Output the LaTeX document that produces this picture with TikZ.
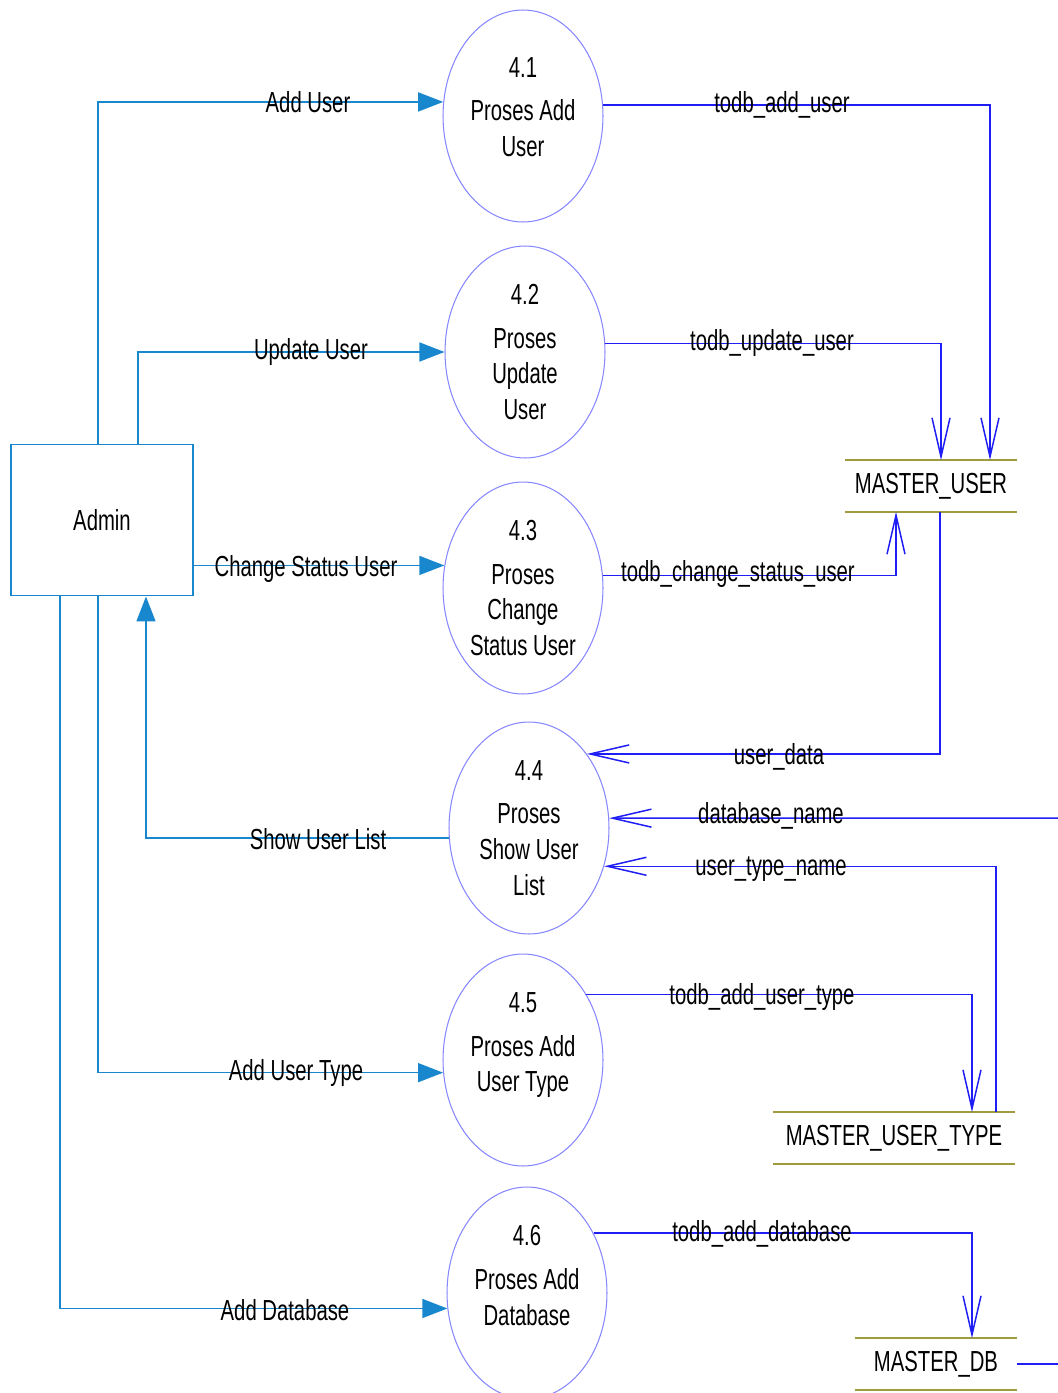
\documentclass[tikz,border=0pt]{standalone}
\usepackage{fontspec}
\setmainfont{Liberation Sans}[FakeStretch=0.70]
\usetikzlibrary{shapes}
\usetikzlibrary{arrows.meta}

\definecolor{procline}{RGB}{135,135,255}
\definecolor{ctrlblue}{RGB}{25,135,205}
\definecolor{flowblue}{RGB}{30,30,245}
\definecolor{storeline}{RGB}{160,155,60}

\begin{document}
\begin{tikzpicture}[x=0.02cm,y=-0.02cm]
                \tikzset{dfdfont/.style = {font=\fontsize{16.5}{20.4}\selectfont}}
                \tikzset{process/.style = {shape=ellipse,draw=procline,line width=0.6pt,minimum width=3.2cm,minimum height=4.24cm,inner sep=0pt,align=center,dfdfont}}
                \tikzset{entity/.style = {shape=rectangle,draw=ctrlblue,line width=1.1pt,minimum width=3.64cm,minimum height=3.02cm,dfdfont}}
                \tikzset{store/.style = {shape=rectangle,minimum height=1.02cm,inner sep=0pt,dfdfont}}
                \tikzset{storeedge/.style = {draw=storeline,line width=1.4pt}}
                \tikzset{ctrl/.style = {-{Triangle[length=0.5cm,width=0.38cm]},draw=ctrlblue,line width=0.85pt}}
                \tikzset{flow/.style = {-{Straight Barb[length=0.78cm,width=0.36cm]},draw=flowblue,line width=0.85pt}}
                \tikzset{lbl/.style = {anchor=base,inner sep=0pt,dfdfont}}

                \useasboundingbox (0,0) rectangle (1058,1393);

                \node[entity] (admin) at (102,520) {Admin};

                \node[process] (p41) at (523,116) {4.1\\[4.5pt]Proses Add\\User\\[-10pt]\mbox{}};
                \node[process] (p42) at (525,352) {4.2\\[4.5pt]Proses\\Update\\User};
                \node[process] (p43) at (523,588) {4.3\\[4.5pt]Proses\\Change\\Status User};
                \node[process] (p44) at (529,828) {4.4\\[4.5pt]Proses\\Show User\\List};
                \node[process] (p45) at (523,1060) {4.5\\[4.5pt]Proses Add\\User Type\\\mbox{}};
                \node[process] (p46) at (527,1293) {4.6\\[4.5pt]Proses Add\\Database\\\mbox{}};

                \node[store,minimum width=3.44cm] (mu) at (931,486) {MASTER\_USER};
                \node[store,minimum width=4.84cm] (mut) at (894,1138) {MASTER\_USER\_TYPE};
                \node[store,minimum width=3.24cm] (mdb) at (936,1364) {MASTER\_DB};
                \draw[storeedge] (mu.north west) -- (mu.north east) (mu.south west) -- (mu.south east);
                \draw[storeedge] (mut.north west) -- (mut.north east) (mut.south west) -- (mut.south east);
                \draw[storeedge] (mdb.north west) -- (mdb.north east) (mdb.south west) -- (mdb.south east);

                \coordinate (dbin) at (1058,818);
                \coordinate (dbout) at (1058,1364);

                % admin to processes
                \draw[ctrl] ([xshift=-0.08cm]admin.north) |- (p41.170);
                \draw[ctrl] ([xshift=0.72cm]admin.north) |- (p42.west);
                \draw[ctrl] (p43.164 -| admin.east) -- (p43.164);
                \draw[ctrl] (p44.187) -| ([xshift=0.88cm]admin.south);
                \draw[ctrl] ([xshift=-0.08cm]admin.south) |- (p45.189);
                \draw[ctrl] ([xshift=-0.84cm]admin.south) |- (p46.191);

                % processes and stores
                \draw[flow] (p41.8) -| ([xshift=1.18cm]mu.north);
                \draw[flow] (p42.6) -| ([xshift=0.2cm]mu.north);
                \draw[flow] (p43.9) -| ([xshift=-0.7cm]mu.south);
                \draw[flow] ([xshift=0.18cm]mu.south) |- (p44.52);
                \draw[flow] (dbin) -- (p44.7);
                \draw[flow] ([xshift=2.04cm]mut.north) |- (p44.-27);
                \draw[flow] (p45.46) -| ([xshift=1.56cm]mut.north);
                \draw[flow] (p46.42) -| ([xshift=0.72cm]mdb.north);
                \draw[flowblue,line width=0.85pt] (mdb.east) -- (dbout);

                \node[lbl] (lAddUser) at (308,112) {Add User};
                \node[lbl] (lUpdUser) at (311,359) {Update User};
                \node[lbl] (lChgUser) at (306,576) {Change Status User};
                \node[lbl] (lShowList) at (318,849) {Show User List};
                \node[lbl] (lAddType) at (296,1080) {Add User Type};
                \node[lbl] (lAddDb) at (285,1320) {Add Database};

                \node[lbl] (tAddUser) at (782,112) {todb\_add\_user};
                \node[lbl] (tUpdUser) at (772,350) {todb\_update\_user};
                \node[lbl] (tChgUser) at (738,581) {todb\_change\_status\_user};
                \node[lbl] (tUserData) at (779,764) {user\_data};
                \node[lbl] (tDbName) at (771,823) {database\_name};
                \node[lbl] (tTypeName) at (771,875) {user\_type\_name};
                \node[lbl] (tAddType) at (762,1004) {todb\_add\_user\_type};
                \node[lbl] (tAddDb) at (762,1241) {todb\_add\_database};

        \end{tikzpicture}
\end{document}
